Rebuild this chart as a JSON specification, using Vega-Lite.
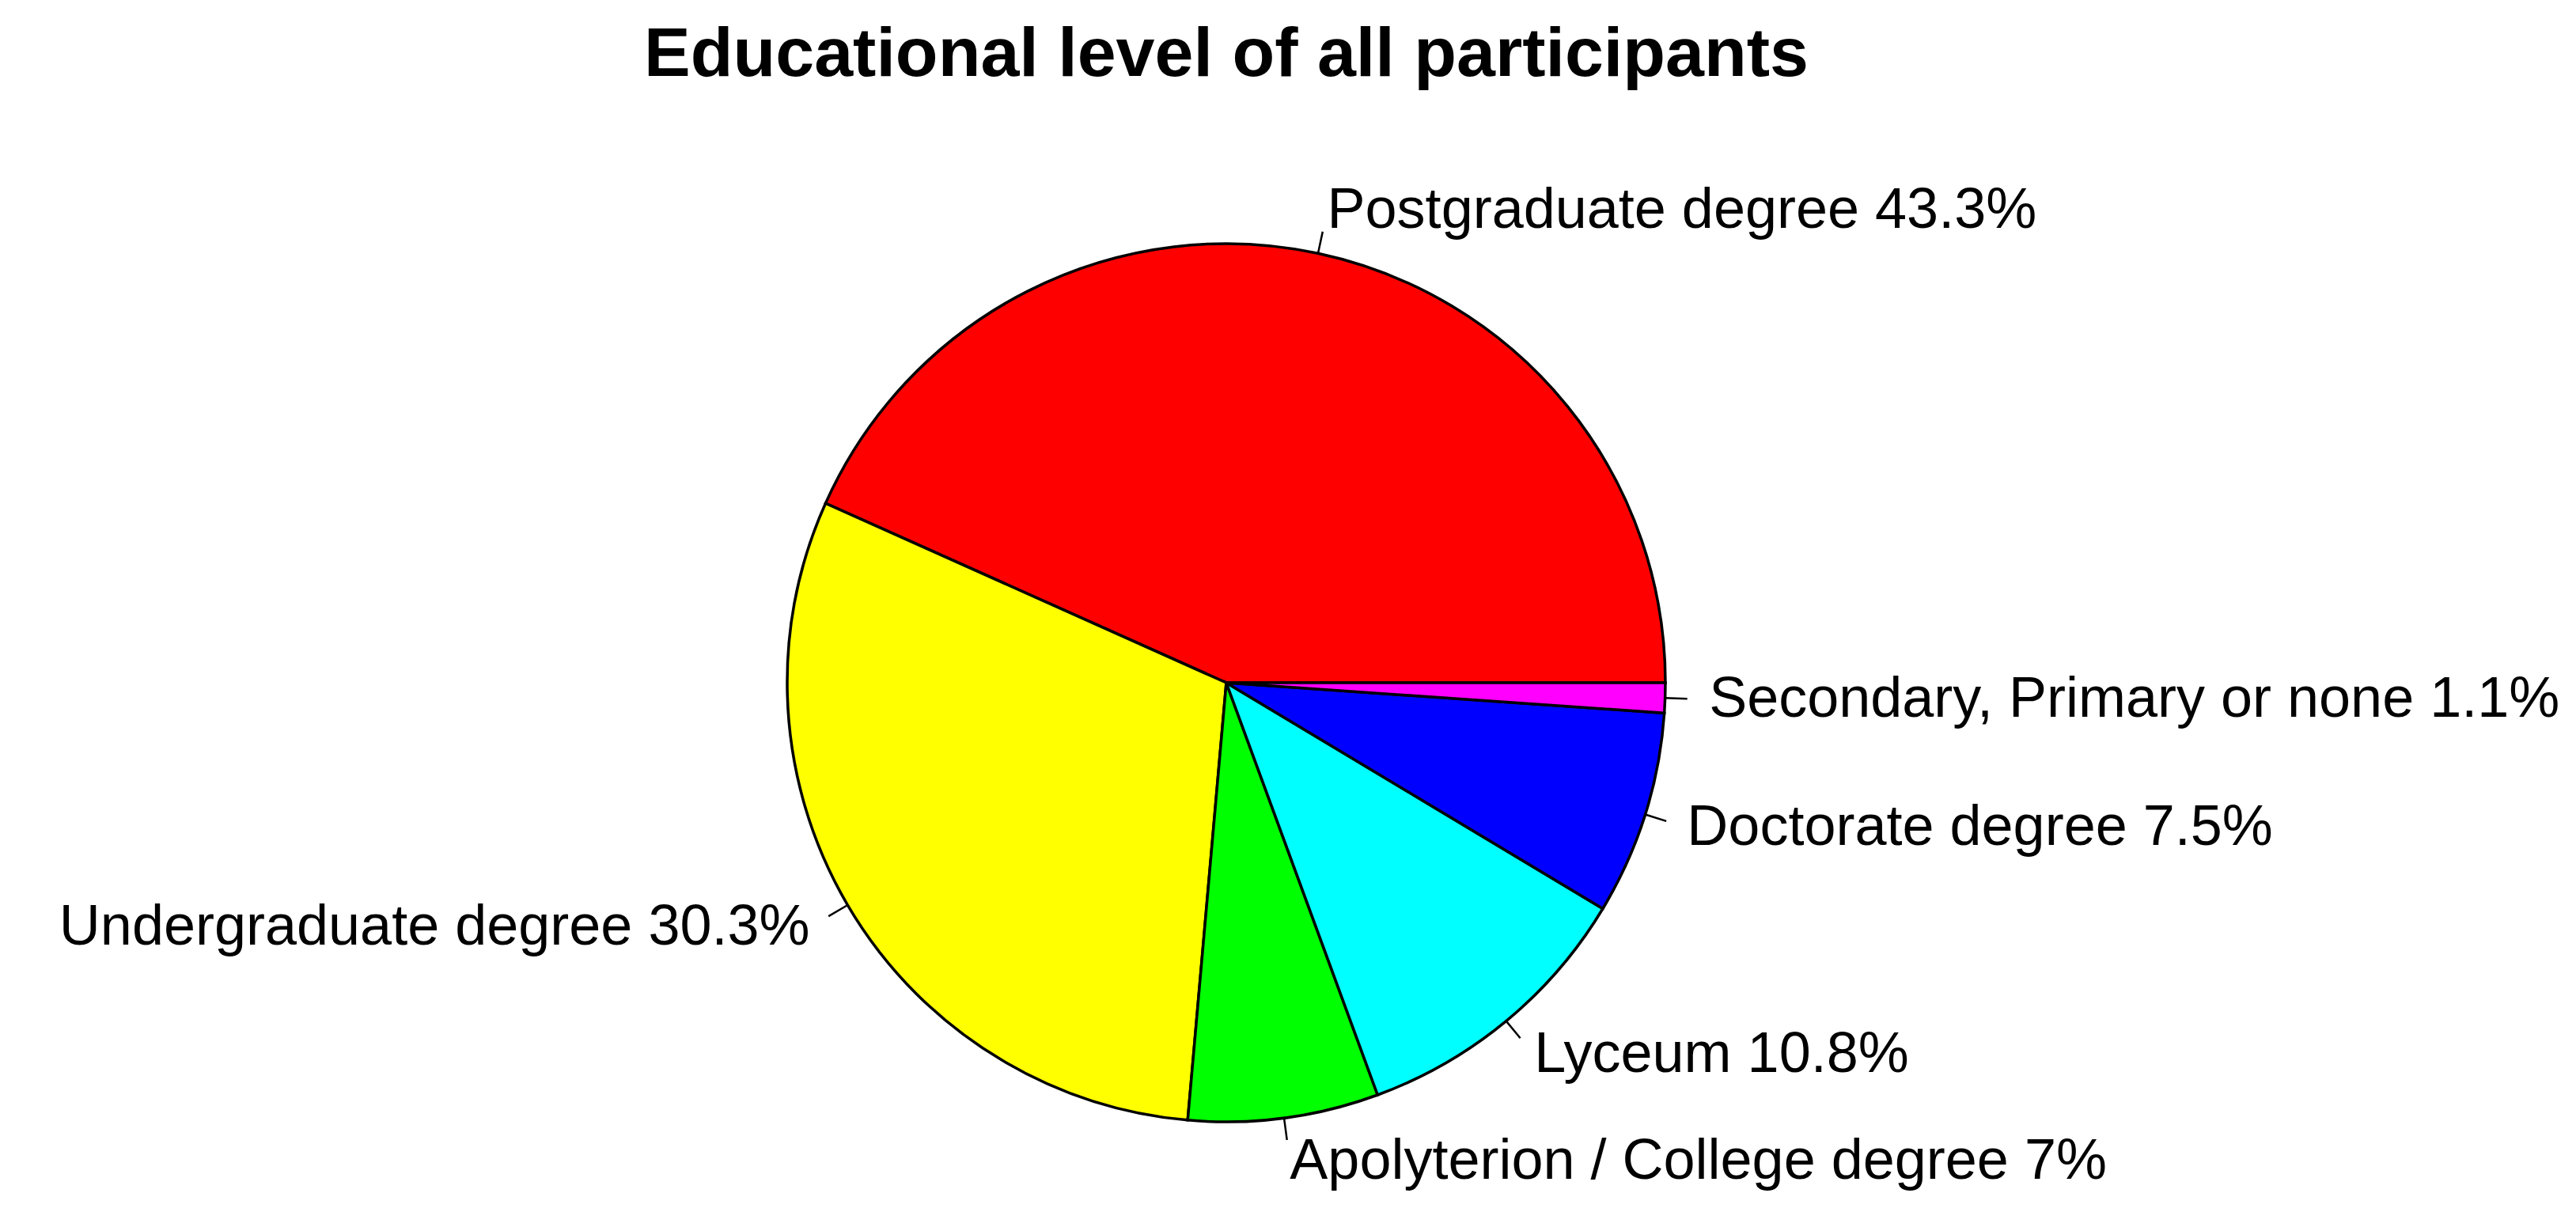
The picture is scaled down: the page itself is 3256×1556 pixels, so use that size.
{
  "$schema": "https://vega.github.io/schema/vega-lite/v6.json",
  "autosize": "none",
  "width": 3100,
  "height": 1326,
  "padding": {"left": 0, "top": 200, "right": 156, "bottom": 30},
  "background": "white",
  "title": {
    "text": "Educational level of all participants",
    "font": "Liberation Sans",
    "fontSize": 88,
    "fontWeight": "bold",
    "color": "black",
    "anchor": "middle",
    "baseline": "bottom",
    "offset": -2
  },
  "config": {"view": {"stroke": null}},
  "data": {
    "values": [
      {"level": "Postgraduate degree", "pct": 43.3, "label": "Postgraduate degree 43.3%", "ord": 1},
      {"level": "Undergraduate degree", "pct": 30.3, "label": "Undergraduate degree 30.3%", "ord": 2},
      {"level": "Apolyterion / College degree", "pct": 7.0, "label": "Apolyterion / College degree 7%", "ord": 3},
      {"level": "Lyceum", "pct": 10.8, "label": "Lyceum 10.8%", "ord": 4},
      {"level": "Doctorate degree", "pct": 7.5, "label": "Doctorate degree 7.5%", "ord": 5},
      {"level": "Secondary, Primary or none", "pct": 1.1, "label": "Secondary, Primary or none 1.1%", "ord": 6}
    ]
  },
  "transform": [
    {"window": [{"op": "sum", "field": "pct", "as": "cum"}], "sort": [{"field": "ord"}], "frame": [null, 0]},
    {"calculate": "datum.cum - datum.pct / 2", "as": "mid"}
  ],
  "layer": [
    {
      "mark": {"type": "arc", "radius": 555, "stroke": "black", "strokeWidth": 3.5},
      "encoding": {
        "theta": {"field": "pct", "type": "quantitative", "stack": true,
          "scale": {"domain": [0, 100], "range": [1.5707963, -4.712389]}},
        "order": {"field": "ord", "type": "quantitative"},
        "color": {"field": "level", "type": "nominal", "legend": null,
          "scale": {
            "domain": ["Postgraduate degree", "Undergraduate degree", "Apolyterion / College degree", "Lyceum", "Doctorate degree", "Secondary, Primary or none"],
            "range": ["#FF0000", "#FFFF00", "#00FF00", "#00FFFF", "#0000FF", "#FF00FF"]
          }}
      }
    },
    {
      "mark": {"type": "arc", "radius": 583, "radius2": 555, "stroke": "black", "strokeWidth": 2.5, "fill": null},
      "encoding": {
        "theta": {"field": "mid", "type": "quantitative", "stack": null},
        "theta2": {"field": "mid"}
      }
    },
    {
      "transform": [{"filter": "!(datum.mid > 25 && datum.mid < 75)"}],
      "mark": {"type": "text", "radius": 610.5, "align": "left", "baseline": "middle", "font": "Liberation Sans", "fontSize": 72, "color": "black"},
      "encoding": {
        "theta": {"field": "mid", "type": "quantitative", "stack": null},
        "text": {"field": "label", "type": "nominal"}
      }
    },
    {
      "transform": [{"filter": "datum.mid > 25 && datum.mid < 75"}],
      "mark": {"type": "text", "radius": 610.5, "align": "right", "baseline": "middle", "font": "Liberation Sans", "fontSize": 72, "color": "black"},
      "encoding": {
        "theta": {"field": "mid", "type": "quantitative", "stack": null},
        "text": {"field": "label", "type": "nominal"}
      }
    }
  ]
}
